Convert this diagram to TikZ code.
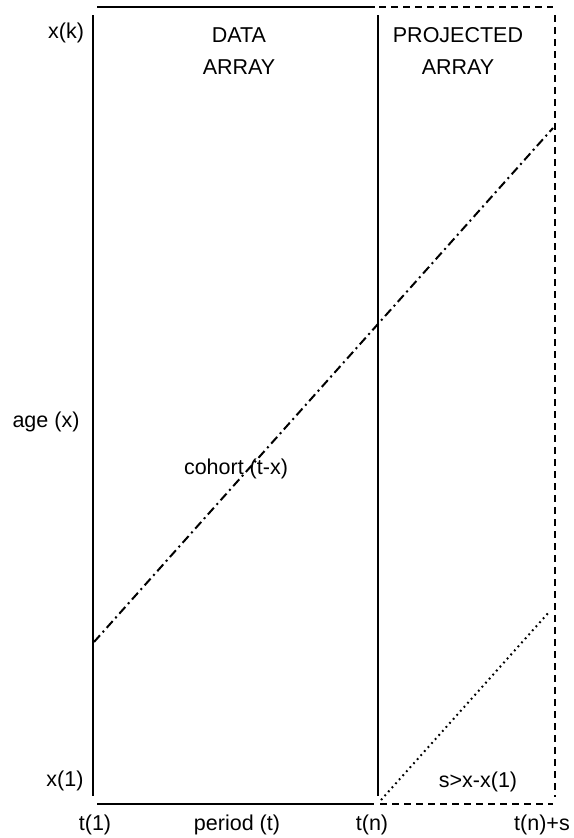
\documentclass[tikz,border=0pt]{standalone}
\usepackage{fontspec}
\setmainfont{Liberation Sans}
\usetikzlibrary{positioning}

\begin{document}
\begin{tikzpicture}[
    x=1pt, y=-1pt,
    axisline/.style={line width=2pt},
    projline/.style={line width=2pt, dash pattern=on 7pt off 5pt},
    cohortline/.style={line width=2pt, dash pattern=on 9pt off 4pt on 2pt off 4pt},
    leadline/.style={line width=2pt, dash pattern=on 1.8pt off 3.6pt},
    lbl/.style={inner sep=0pt, font=\fontsize{21.5}{25}\selectfont}
  ]
  \useasboundingbox (0,0) rectangle (573,838);

  % corners of the data and projected arrays
  \coordinate (ltop) at (93,15);
  \coordinate (lbot) at (93,796);
  \coordinate (mtop) at (378,15);
  \coordinate (mbot) at (378,796);
  \coordinate (rtop) at (555,15);
  \coordinate (rbot) at (555,797);
  \coordinate (topa) at (97,7);
  \coordinate (topb) at (375,7);
  \coordinate (topc) at (379,7);
  \coordinate (topd) at (553,7);
  \coordinate (bota) at (97,804);
  \coordinate (botb) at (374,804);
  \coordinate (botc) at (380,804);
  \coordinate (botd) at (553,804);

  \draw[axisline] (ltop) -- (lbot);
  \draw[axisline] (mtop) -- (mbot);
  \draw[projline] (rtop) -- (rbot);
  \draw[axisline] (topa) -- (topb);
  \draw[projline] (topc) -- (topd);
  \draw[axisline] (bota) -- (botb);
  \draw[projline] (botc) -- (botd);

  % cohort and lead lines
  \coordinate (cohstart) at (94,642);
  \coordinate (cohend) at (553,128);
  \coordinate (leadstart) at (381,800);
  \coordinate (leadend) at (550,611);
  \draw[cohortline] (cohstart) -- (cohend);
  \draw[leadline] (leadstart) -- (leadend);

  \node[lbl] (data) at (239,35) {DATA};
  \node[lbl, below=17pt of data] (dataarr) {ARRAY};
  \node[lbl] (proj) at (458,35) {PROJECTED};
  \node[lbl, below=17pt of proj] (projarr) {ARRAY};

  \node[lbl] (xk) at (66,33) {x(k)};
  \node[lbl] (age) at (46,422) {age (x)};
  \node[lbl] (x1) at (65,781) {x(1)};
  \node[lbl] (cohort) at (236,469) {cohort (t-x)};
  \node[lbl] (lead) at (478,782) {s>x-x(1)};

  \node[lbl] (t1) at (95,825) {t(1)};
  \node[lbl] (period) at (237,825) {period (t)};
  \node[lbl] (tn) at (372,825) {t(n)};
  \node[lbl] (tns) at (542,825) {t(n)+s};

\end{tikzpicture}
\end{document}
